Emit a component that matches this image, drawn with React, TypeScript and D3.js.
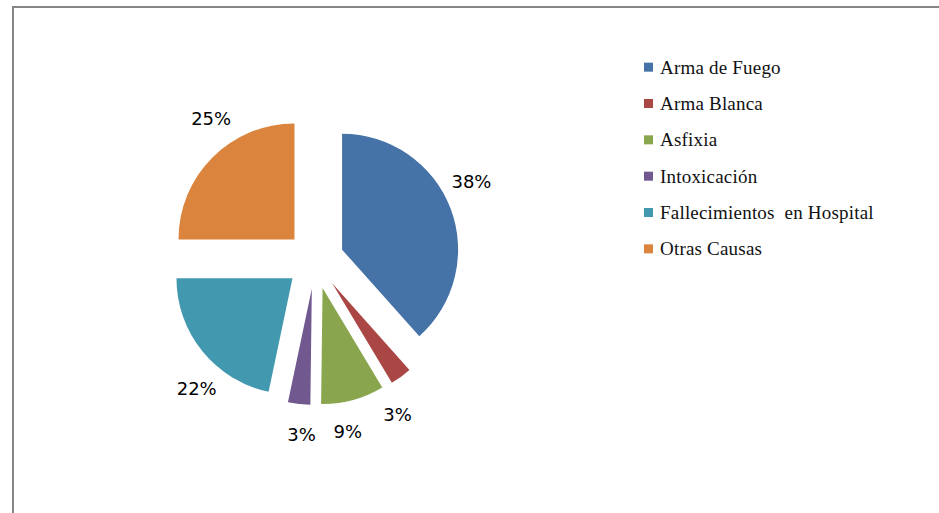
import * as d3 from 'd3'
import React from 'react'

const categories = ['Arma de Fuego', 'Arma Blanca', 'Asfixia', 'Intoxicación', 'Fallecimientos  en Hospital', 'Otras Causas']
const values = [38.4, 3.0, 8.8, 3.1, 21.7, 25.0]
const colors = ['#4572A7', '#AA4643', '#89A54E', '#71588F', '#4198AF', '#DB843D']

const W = 939
const H = 513
const cx = 315
const cy = 260
const radius = 116
const explode = 29
const labelR = 175

const App = () => {
  const pie = d3.pie<number>().sort(null).value(d => d)
  const arcs = pie(values)
  const arc = d3.arc<d3.PieArcDatum<number>>().innerRadius(0).outerRadius(radius)
  const total = d3.sum(values)

  const slices = arcs.map((a, i) => {
    const mid = (a.startAngle + a.endAngle) / 2
    const dx = Math.sin(mid) * explode
    const dy = -Math.cos(mid) * explode
    return (
      <path key={categories[i]} d={arc(a) || ''} fill={colors[i]} transform={`translate(${dx},${dy})`} />
    )
  })

  // labels sit outside the slice, pulled a little toward the vertical axis
  const labels = arcs.map((a, i) => {
    const mid = (a.startAngle + a.endAngle) / 2
    const ang = mid - 0.15 * Math.sin(2 * mid)
    const x = Math.sin(ang) * labelR
    const y = -Math.cos(ang) * labelR
    return (
      <text key={categories[i]} x={x} y={y} dy="0.35em" textAnchor="middle"
        fontFamily="DejaVu Sans" fontSize={18} fill="#000">
        {d3.format('.0%')(values[i] / total)}
      </text>
    )
  })

  const legendY = d3.scaleBand<string>().domain(categories).range([49, 267])

  return (
    <svg width={W} height={H} style={{ position: 'absolute', left: 0, top: 0 }}>
      <rect width={W} height={H} fill="#fff" />
      <path d={`M13,${H} V7 H${W}`} fill="none" stroke="#868686" strokeWidth={2} />
      <g transform={`translate(${cx},${cy})`}>
        {slices}
        {labels}
      </g>
      {categories.map((c, i) => {
        const y = (legendY(c) || 0) + legendY.bandwidth() / 2
        return (
          <g key={c}>
            <rect x={644} y={y - 4.5} width={9} height={9} fill={colors[i]} />
            <text x={660} y={y} dy="0.35em" fontFamily="Liberation Serif" fontSize={19}
              letterSpacing={0.2} fill="#111" style={{ whiteSpace: 'pre' }}>
              {c}
            </text>
          </g>
        )
      })}
    </svg>
  )
}

export default App
